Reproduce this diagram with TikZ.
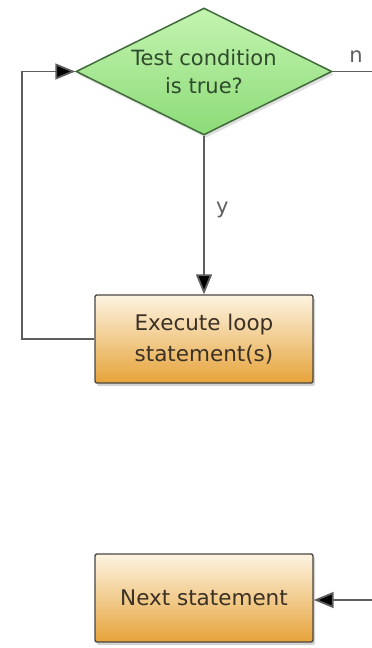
\documentclass[tikz,border=0pt]{standalone}
\usepackage{fontspec}
\setmainfont{DejaVu Sans}
\usetikzlibrary{shapes.geometric,shadows,arrows.meta}
\definecolor{dgreen}{HTML}{3F6B3A}
\definecolor{gtop}{HTML}{C4F4B0}
\definecolor{gbot}{HTML}{8CDB78}
\definecolor{otop}{HTML}{FDF4E2}
\definecolor{obot}{HTML}{E6A33A}
\definecolor{bord}{HTML}{4A4540}
\definecolor{linec}{HTML}{5E5E5E}
\definecolor{btext}{HTML}{3A3024}
\definecolor{gtext}{HTML}{2F4A2C}
\begin{document}
\begin{tikzpicture}[x=1pt,y=-1pt,
  decision/.style={diamond, draw=dgreen, line width=1.5pt, top color=gtop, bottom color=gbot,
     minimum width=256pt, minimum height=127pt, inner sep=0pt,
     drop shadow={shadow xshift=2pt, shadow yshift=-3pt, opacity=0.25}},
  process/.style={rectangle, rounded corners=2pt, draw=bord, line width=1.4pt,
     top color=otop, bottom color=obot, minimum width=218pt, minimum height=88pt,
     inner sep=0pt, align=center, font=\fontsize{21.5}{31}\selectfont, text=btext,
     drop shadow={shadow xshift=2pt, shadow yshift=-3pt, opacity=0.35}},
  conn/.style={draw=linec, line width=1.8pt},
  arr/.style={conn, -{Triangle[length=20pt,width=16pt,fill=black]}},
  lbl/.style={font=\fontsize{21}{24}\selectfont, text=linec}
]
\useasboundingbox (0,0) rectangle (372,648);

\node[decision] (test) at (204,71.5) {};
\node[align=center, font=\fontsize{21}{28}\selectfont, text=gtext] (testtxt) at (204,72) {Test condition\\is true?};
\node[process] (exec) at (204,339) {Execute loop\\statement(s)};
\node[process] (next) at (204,598) {Next statement};

\coordinate (lb) at (22,339);
\coordinate (lt) at (22,71.5);
\coordinate (nr) at (374,71.5);
\coordinate (nin) at (374,600);

\draw[arr] (test.south) -- node[lbl, right=8pt, pos=0.47] (ylab) {y} (exec.north);
\draw[arr] (exec.west) -- (lb) -- (lt) -- (test.west);
\draw[conn] (test.east) -- (nr);
\node[lbl, anchor=south] (nlab) at (356,66) {n};
\draw[arr] (nin) -- (next.east |- nin);
\end{tikzpicture}
\end{document}
